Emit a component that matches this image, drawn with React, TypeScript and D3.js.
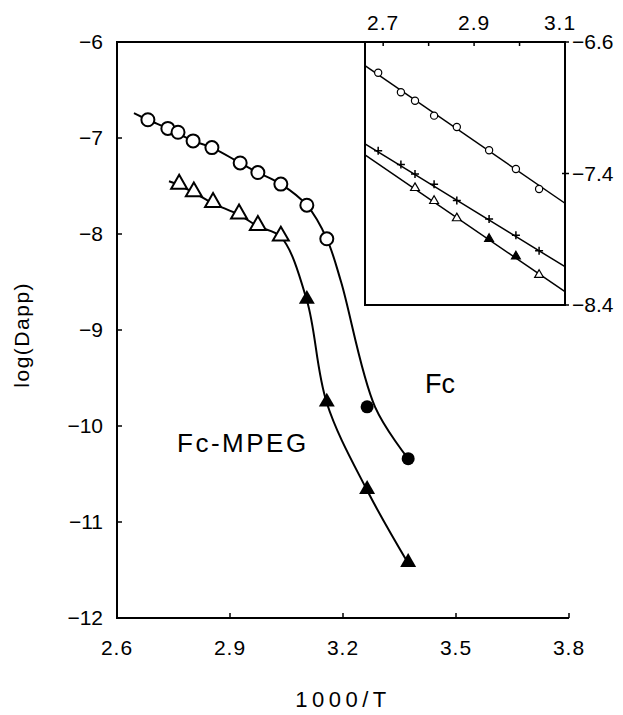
import React, { useEffect, useRef } from 'react';
import * as d3 from 'd3';

// main plot: Fc (circles) and Fc-MPEG (triangles)
const fcOpenX = [2.682, 2.735, 2.762, 2.802, 2.852, 2.927, 2.974, 3.035, 3.104, 3.157];
const fcOpenY = [-6.81, -6.90, -6.94, -7.03, -7.10, -7.26, -7.36, -7.48, -7.70, -8.05];
const fcFilledX = [3.264, 3.373];
const fcFilledY = [-9.80, -10.34];
const fcFitX = [2.645, 2.682, 2.735, 2.802, 2.852, 2.927, 2.974, 3.035, 3.104, 3.157, 3.195, 3.285, 3.373];
const fcFitY = [-6.74, -6.81, -6.90, -7.03, -7.10, -7.26, -7.36, -7.48, -7.70, -8.05, -8.50, -9.80, -10.34];

const pegOpenX = [2.765, 2.804, 2.855, 2.924, 2.974, 3.035];
const pegOpenY = [-7.49, -7.57, -7.68, -7.80, -7.92, -8.03];
const pegFilledX = [3.104, 3.157, 3.264, 3.373];
const pegFilledY = [-8.69, -9.76, -10.67, -11.43];
const pegFitX = [2.738, 2.765, 2.804, 2.855, 2.924, 2.974, 3.035, 3.104, 3.157, 3.264, 3.373];
const pegFitY = [-7.45, -7.49, -7.57, -7.68, -7.80, -7.92, -8.03, -8.69, -9.76, -10.67, -11.43];

const xTicks = [2.6, 2.9, 3.2, 3.5, 3.8];
const yTicks = [-6, -7, -8, -9, -10, -11, -12];

// inset
const insetX = [2.689, 2.739, 2.770, 2.812, 2.862, 2.933, 2.992, 3.043];
const insetCircleY = [-6.787, -6.906, -6.957, -7.048, -7.117, -7.259, -7.373, -7.494];
const insetPlusY = [-7.261, -7.346, -7.403, -7.465, -7.565, -7.677, -7.776, -7.870];
const insetTriX = [2.770, 2.812, 2.862, 2.933, 2.992, 3.043];
const insetTriY = [-7.494, -7.573, -7.678, -7.804, -7.910, -8.023];
const insetTriFilled = [false, false, false, true, true, false];
const insetLineX = [2.66, 3.1];
const insetCircleLine = [-6.744, -7.581];
const insetPlusLine = [-7.220, -7.967];
const insetTriLine = [-7.287, -8.119];
const insetXTicks = [2.7, 2.8, 2.9, 3.0];
const insetXLabels = [2.7, 2.9, 3.1];
const insetYTicks = [-6.6, -7.4, -8.2];
const insetYLabels = ['\u22126.6', '\u22127.4', '\u22128.4'];

const FONT = 'Liberation Sans, Arial, sans-serif';

const draw = (node: SVGSVGElement) => {
    const svg = d3.select(node);
    svg.selectAll('*').remove();

    const x = d3.scaleLinear().domain([2.6, 3.8]).range([117, 569]);
    const y = d3.scaleLinear().domain([-6, -12]).range([42, 618]);
    const ix = d3.scaleLinear().domain([2.66, 3.1]).range([365, 565]);
    const iy = d3.scaleLinear().domain([-6.6, -8.2]).range([42, 305]);

    // main frame (left, bottom, top up to the inset)
    svg.append('path')
        .attr('d', `M${ix(2.66)},${y(-6)}H${x(2.6)}V${y(-12)}H${x(3.8)}`)
        .attr('fill', 'none').attr('stroke', '#000').attr('stroke-width', 2);

    // ticks
    svg.append('g').selectAll('line').data(yTicks.slice(1, -1)).enter().append('line')
        .attr('x1', x(2.6)).attr('x2', x(2.6) + 5)
        .attr('y1', d => y(d)).attr('y2', d => y(d))
        .attr('stroke', '#000').attr('stroke-width', 1.5);
    svg.append('g').selectAll('line').data(xTicks.slice(1)).enter().append('line')
        .attr('x1', d => x(d)).attr('x2', d => x(d))
        .attr('y1', y(-12)).attr('y2', y(-12) - 5)
        .attr('stroke', '#000').attr('stroke-width', 1.5);

    svg.append('g').selectAll('text').data(yTicks).enter().append('text')
        .text(d => '\u2212' + Math.abs(d))
        .attr('x', 103).attr('y', d => y(d) + 7)
        .attr('text-anchor', 'end')
        .attr('font-family', FONT).attr('font-size', 21);
    svg.append('g').selectAll('text').data(xTicks).enter().append('text')
        .text(d => d3.format('.1f')(d))
        .attr('x', d => x(d)).attr('y', 655)
        .attr('text-anchor', 'middle')
        .attr('font-family', FONT).attr('font-size', 21).attr('letter-spacing', 1);

    svg.append('text').text('1000/T')
        .attr('x', x(3.2)).attr('y', 707).attr('text-anchor', 'middle')
        .attr('font-family', FONT).attr('font-size', 22).attr('letter-spacing', 4.5);
    svg.append('text').text('log(Dapp)')
        .attr('transform', `translate(29,${y(-9.05)}) rotate(-90)`)
        .attr('text-anchor', 'middle')
        .attr('font-family', FONT).attr('font-size', 21).attr('letter-spacing', 1.5);

    svg.append('text').text('Fc')
        .attr('x', 425).attr('y', 393)
        .attr('font-family', FONT).attr('font-size', 27);
    svg.append('text').text('Fc-MPEG')
        .attr('x', 177).attr('y', 452)
        .attr('font-family', FONT).attr('font-size', 26).attr('letter-spacing', 2.5);

    // fitted curves
    const line = d3.line<number>().curve(d3.curveCatmullRom.alpha(0.5));
    const curve = (xs: number[], ys: number[]) =>
        line.x((d, i) => x(xs[i])).y((d, i) => y(ys[i]))(xs);
    svg.append('path').attr('d', curve(fcFitX, fcFitY))
        .attr('fill', 'none').attr('stroke', '#000').attr('stroke-width', 2);
    svg.append('path').attr('d', curve(pegFitX, pegFitY))
        .attr('fill', 'none').attr('stroke', '#000').attr('stroke-width', 2);

    const tri = d3.symbol().type(d3.symbolTriangle).size(110);
    const triSmall = d3.symbol().type(d3.symbolTriangle).size(34);

    // markers
    svg.append('g').selectAll('circle').data(fcOpenX).enter().append('circle')
        .attr('cx', d => x(d)).attr('cy', (d, i) => y(fcOpenY[i])).attr('r', 6.5)
        .attr('fill', '#fff').attr('stroke', '#000').attr('stroke-width', 2);
    svg.append('g').selectAll('circle').data(fcFilledX).enter().append('circle')
        .attr('cx', d => x(d)).attr('cy', (d, i) => y(fcFilledY[i])).attr('r', 6.5)
        .attr('fill', '#000');
    svg.append('g').selectAll('path').data(pegOpenX).enter().append('path')
        .attr('d', tri)
        .attr('transform', (d, i) => `translate(${x(d)},${y(pegOpenY[i]) - 1})`)
        .attr('fill', '#fff').attr('stroke', '#000').attr('stroke-width', 2);
    svg.append('g').selectAll('path').data(pegFilledX).enter().append('path')
        .attr('d', tri)
        .attr('transform', (d, i) => `translate(${x(d)},${y(pegFilledY[i]) - 1})`)
        .attr('fill', '#000');

    // inset
    const g = svg.append('g');
    g.append('rect')
        .attr('x', ix(2.66)).attr('y', iy(-6.6))
        .attr('width', ix(3.1) - ix(2.66)).attr('height', iy(-8.2) - iy(-6.6))
        .attr('fill', '#fff').attr('stroke', '#000').attr('stroke-width', 2);
    g.selectAll('.ixt').data(insetXTicks).enter().append('line')
        .attr('x1', d => ix(d)).attr('x2', d => ix(d))
        .attr('y1', iy(-6.6)).attr('y2', iy(-6.6) + 4)
        .attr('stroke', '#000').attr('stroke-width', 1.5);
    g.selectAll('.ixl').data(insetXLabels).enter().append('text')
        .text(d => d3.format('.1f')(d))
        .attr('x', d => ix(d) - (d === 3.1 ? 5 : 0)).attr('y', 30)
        .attr('text-anchor', 'middle')
        .attr('font-family', FONT).attr('font-size', 21).attr('letter-spacing', 1);
    g.selectAll('.iyt').data(insetYTicks).enter().append('line')
        .attr('x1', ix(3.1) - 3).attr('x2', ix(3.1) + 4)
        .attr('y1', d => iy(d)).attr('y2', d => iy(d))
        .attr('stroke', '#000').attr('stroke-width', 1.5);
    g.selectAll('.iyl').data(insetYTicks).enter().append('text')
        .text((d, i) => insetYLabels[i])
        .attr('x', 572).attr('y', d => iy(d) + 7)
        .attr('font-family', FONT).attr('font-size', 21);

    const straight = (ys: number[]) =>
        d3.line<number>().x(d => ix(d)).y((d, i) => iy(ys[i]))(insetLineX);
    [insetCircleLine, insetPlusLine, insetTriLine].forEach(ys => {
        g.append('path').attr('d', straight(ys))
            .attr('fill', 'none').attr('stroke', '#000').attr('stroke-width', 1.5);
    });

    g.selectAll('.ic').data(insetX).enter().append('circle')
        .attr('cx', d => ix(d)).attr('cy', (d, i) => iy(insetCircleY[i])).attr('r', 3.6)
        .attr('fill', '#fff').attr('stroke', '#000').attr('stroke-width', 1.2);
    g.selectAll('.ip').data(insetX).enter().append('path')
        .attr('d', 'M-4,0H4M0,-4V4')
        .attr('transform', (d, i) => `translate(${ix(d)},${iy(insetPlusY[i])})`)
        .attr('stroke', '#000').attr('stroke-width', 1.5);
    g.selectAll('.it').data(insetTriX).enter().append('path')
        .attr('d', triSmall)
        .attr('transform', (d, i) => `translate(${ix(d)},${iy(insetTriY[i]) - 1})`)
        .attr('fill', (d, i) => insetTriFilled[i] ? '#000' : '#fff')
        .attr('stroke', '#000').attr('stroke-width', 1.2);
};

export default function App() {
    const ref = useRef<SVGSVGElement>(null);
    useEffect(() => {
        if (ref.current) draw(ref.current);
    }, []);
    return (
        <div style={{ position: 'absolute', left: 0, top: 0, background: '#fff' }}>
            <svg ref={ref} width={623} height={715} style={{ display: 'block' }} />
        </div>
    );
}
